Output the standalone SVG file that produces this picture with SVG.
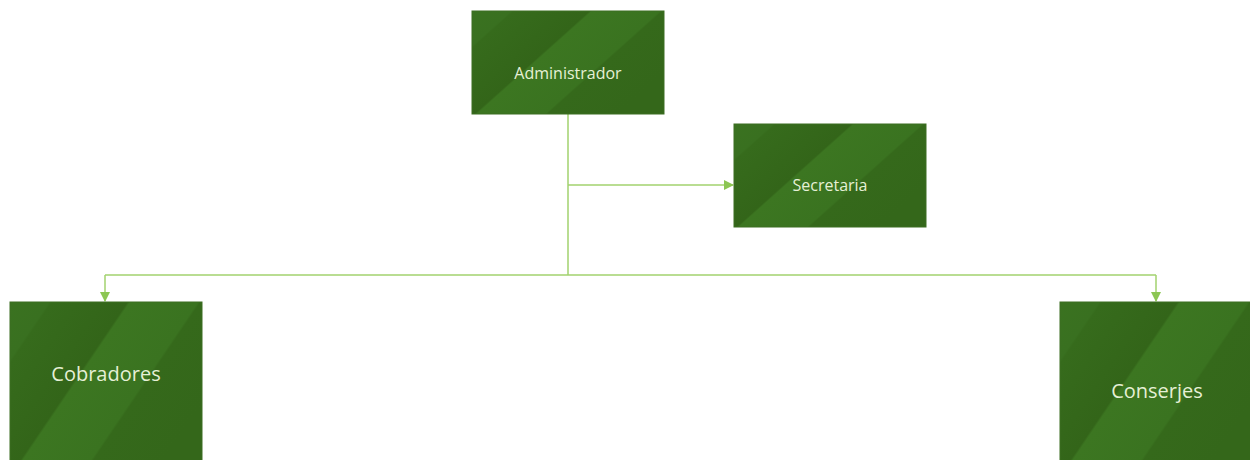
<svg xmlns="http://www.w3.org/2000/svg" width="1250" height="460" viewBox="0 0 1250 460">
<style>
.box{fill:url(#g);stroke:#3c6e22;stroke-width:1}
.t{font-family:"Open Sans","Noto Sans",sans-serif;fill:#e6f0d6;text-anchor:middle;dominant-baseline:central}
.s{font-size:16px}
.l{font-size:20px}
.c{fill:none;stroke:#a2d26e;stroke-width:1.5}
</style>
<defs>
<linearGradient id="g" x1="0" y1="0" x2="1" y2="0.6">
<stop offset="0" stop-color="#3a7220"/>
<stop offset="0.15" stop-color="#397020"/>
<stop offset="0.16" stop-color="#366b1c"/>
<stop offset="0.45" stop-color="#336519"/>
<stop offset="0.46" stop-color="#3c7621"/>
<stop offset="0.72" stop-color="#3a7320"/>
<stop offset="0.73" stop-color="#35691b"/>
<stop offset="1" stop-color="#34671a"/>
</linearGradient>
<marker id="a" viewBox="0 0 10 10" refX="9" refY="5" markerWidth="10" markerHeight="10" markerUnits="userSpaceOnUse" orient="auto">
<path d="M0,0 L10,5 L0,10 z" fill="#8cc653"/>
</marker>
</defs>
<g id="connectors">
<path class="c" d="M568,114 V275"/>
<path class="c" d="M568,185 H733" marker-end="url(#a)"/>
<path class="c" d="M105,275 H1156"/>
<path class="c" d="M105,275 V301" marker-end="url(#a)"/>
<path class="c" d="M1156,275 V301" marker-end="url(#a)"/>
</g>
<g id="administrador">
<rect class="box" x="472" y="11" width="192" height="103"/>
<text class="t s" x="568" y="73">Administrador</text>
</g>
<g id="secretaria">
<rect class="box" x="734" y="124" width="192" height="103"/>
<text class="t s" x="830" y="185">Secretaria</text>
</g>
<g id="cobradores">
<rect class="box" x="10" y="302" width="192" height="170"/>
<text class="t l" x="106" y="373">Cobradores</text>
</g>
<g id="conserjes">
<rect class="box" x="1060" y="302" width="192" height="170"/>
<text class="t l" x="1157" y="390">Conserjes</text>
</g>
</svg>
